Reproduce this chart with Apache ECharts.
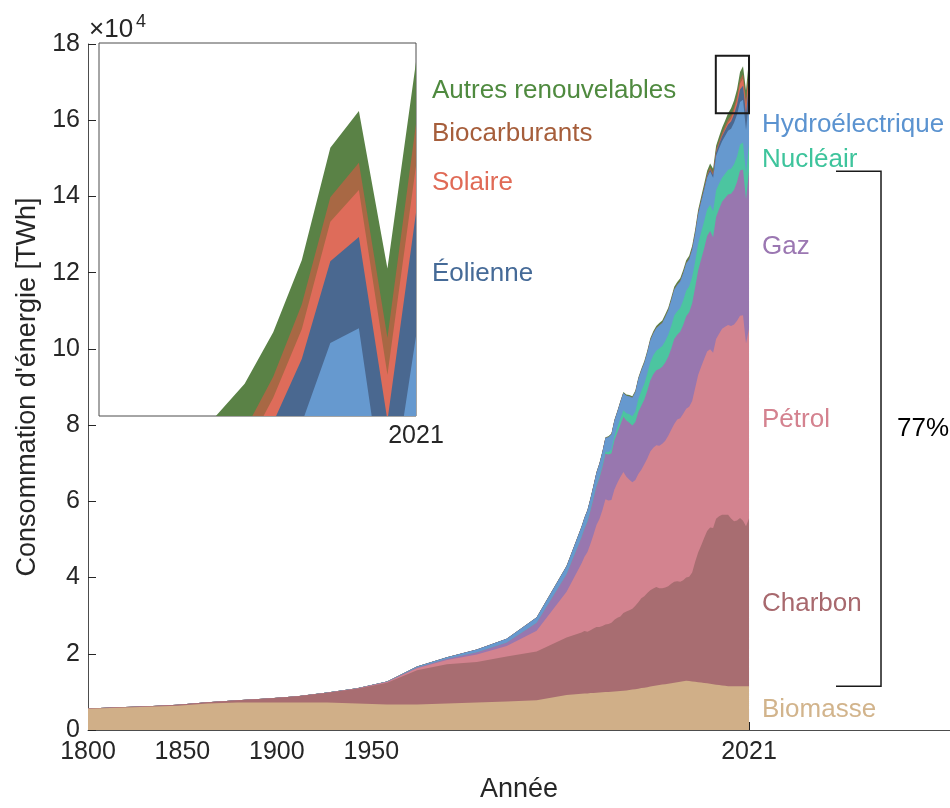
<!DOCTYPE html>
<html>
<head>
<meta charset="utf-8">
<script src="https://cdn.jsdelivr.net/npm/echarts@6/dist/echarts.min.js"></script>
<style>
  html, body { margin: 0; padding: 0; background: #ffffff; }
  #chart { width: 950px; height: 808px; }
</style>
</head>
<body>
<div id="chart"></div>
<script>
// World primary energy consumption by source, TWh
const years = [1800,1810,1820,1830,1840,1850,1860,1870,1880,1890,1900,1910,1920,1930,1940,1950,1960,
  1965,1966,1967,1968,1969,1970,1971,1972,1973,1974,
  1975,1976,1977,1978,1979,1980,1981,1982,1983,1984,
  1985,1986,1987,1988,1989,1990,1991,1992,1993,1994,
  1995,1996,1997,1998,1999,2000,2001,2002,2003,2004,
  2005,2006,2007,2008,2009,2010,2011,2012,2013,2014,
  2015,2016,2017,2018,2019,2020,2021];

const biomasse = [5556,5833,6111,6389,6944,7222,7222,7222,7222,6944,6667,6667,6944,7222,7500,7778,9167,
  9500,9550,9600,9680,9730,9800,9840,9900,9960,10000,
  10060,10110,10150,10210,10300,10380,10490,10600,10720,10840,
  10990,11100,11240,11390,11540,11690,11800,11910,12020,12140,
  12260,12390,12540,12680,12800,12890,12840,12750,12660,12550,
  12440,12350,12240,12110,12000,11900,11790,11700,11600,11500,
  11480,11470,11490,11500,11500,11490,11500];

const charbon = [97,128,153,264,356,569,1061,1642,2542,3856,5728,9000,10300,10600,11800,12800,15100,
  16100,16400,16200,16500,16900,17200,17200,17400,17700,17800,
  18100,18800,19300,19600,20400,20700,20900,21200,21900,22700,
  23600,24000,24700,25300,25600,25800,25400,25300,25400,25600,
  26100,26500,26500,26200,26500,27100,27400,28600,31500,34000,
  36000,38000,40000,41000,41000,43500,44300,44800,44900,45000,
  44000,43300,43500,44100,43400,42000,44000];

const petrole = [0,0,0,0,0,0,0,6,33,89,181,514,1097,1968,2739,5444,12000,
  18100,19500,20900,22700,24600,26800,28300,30400,32900,32400,
  32200,34200,35400,36600,37000,35400,34300,33200,33000,33600,
  33700,34600,35300,36400,36900,37200,37400,37900,38500,39500,
  40400,41400,42400,42900,43700,44300,44600,45000,45600,46600,
  46900,47000,47100,46800,46000,47200,47900,48800,49300,49800,
  50500,51600,52400,53100,53900,47900,49800];

const gaz = [0,0,0,0,0,0,0,0,30,70,120,250,350,600,900,2100,4600,
  6900,7400,8000,8700,9500,10200,10800,11300,11900,12100,
  12200,12900,13200,13700,14500,14700,14900,14900,15200,16300,
  16800,17000,17800,18600,19300,19700,20100,20200,20500,20700,
  21300,22300,22300,22700,23300,24300,24800,25600,26400,27400,
  28200,29000,30300,31000,30300,32000,32700,33300,33800,34200,
  34700,35400,36400,38100,38300,37800,41300];

const nucleaire = [0,0,0,0,0,0,0,0,0,0,0,0,0,0,0,0,20,
  70,90,110,140,170,220,300,400,540,660,
  1000,1140,1370,1640,1700,1930,2230,2440,2780,3380,
  3880,4150,4480,4830,4970,5130,5390,5440,5620,5750,
  5970,6170,6120,6250,6480,6640,6810,6890,6800,7050,
  7060,7130,6950,6920,6840,7010,6700,6290,6360,6510,
  6580,6670,6720,6860,7050,6830,7030];

const hydro = [0,0,0,0,0,0,0,0,0,20,60,200,400,700,1000,1400,2100,
  2600,2760,2830,2960,3120,3280,3410,3540,3600,3880,
  3970,4010,4080,4330,4520,4600,4700,4850,5050,5250,
  5350,5450,5520,5700,5720,5880,6060,6050,6320,6380,
  6670,6770,6880,6950,7010,7150,7030,7180,7220,7680,
  7920,8200,8350,8700,8770,9000,9250,9600,9900,10200,
  10500,10900,11000,11100,11200,11400,11400];

const eolien = [0,0,0,0,0,0,0,0,0,0,0,0,0,0,0,0,0,
  0,0,0,0,0,0,0,0,0,0,
  0,0,0,0,0,0,0,0,0,1,
  2,3,4,6,8,10,12,14,17,20,
  25,30,40,55,70,85,110,140,170,220,
  270,340,440,570,720,900,1100,1300,1500,1700,
  1900,2200,2600,3300,3700,4200,5000];

const solaire = [0,0,0,0,0,0,0,0,0,0,0,0,0,0,0,0,0,
  0,0,0,0,0,0,0,0,0,0,
  0,0,0,0,0,0,0,0,0,0,
  0,0,0,0,0,1,1,1,2,2,
  2,2,3,3,4,5,7,9,12,16,
  22,30,40,60,80,110,170,250,350,500,
  700,1000,1200,1600,1900,1850,1900];

const biocarburants = [0,0,0,0,0,0,0,0,0,0,0,0,0,0,0,0,0,
  0,0,0,0,0,0,0,0,0,0,
  0,0,0,0,0,20,30,40,50,60,
  70,80,85,90,100,110,115,115,120,125,
  130,130,135,130,125,120,130,150,170,190,
  230,290,370,480,530,600,650,700,750,800,
  850,850,1000,1000,1100,1500,1700];

const autres = [0,0,0,0,0,0,0,0,0,0,0,0,0,0,0,50,100,
  150,155,160,170,180,190,200,210,220,230,
  240,250,260,270,285,300,320,340,360,380,
  400,420,440,460,480,500,520,540,560,580,
  600,620,640,660,680,700,720,760,790,820,
  850,900,950,1000,1050,1100,1200,1300,1400,1600,
  1900,1800,1800,2000,2100,2800,2500];

// Source names, bottom to top of the stack
const names = ['Biomasse', 'Charbon', 'Pétrol', 'Gaz', 'Nucléair', 'Hydroélectrique',
  'Éolienne', 'Solaire', 'Biocarburants', 'Autres renouvelables'];
const values = [biomasse, charbon, petrole, gaz, nucleaire, hydro, eolien, solaire, biocarburants, autres];
// Sources labelled next to the detail panel instead of the main plot
const detailLabelled = ['Éolienne', 'Solaire', 'Biocarburants', 'Autres renouvelables'];
// Fossil sources grouped by the bracket
const fossil = ['Charbon', 'Pétrol', 'Gaz'];

// Year tick labels, spread over the data span in seven equal steps
const tickLabels = ['1800', '1850', '1900', '1950', '2021'];
const tickSlots = [0, 1, 2, 3, 7];

// Window of the detail panel (years, TWh)
const detailYears = [2009.9, 2021];
const detailRange = [161800, 176900];

(function () {
  // Styling
  const fills = ['#D0AF88', '#A86D71', '#D3838F', '#9877AF', '#4CC5A0', '#6699CF',
    '#4A6890', '#DE6C5A', '#A86844', '#5A8246'];
  const textColors = ['#D2B48C', '#A8696E', '#D4828F', '#9B77B2', '#3EC49C', '#5B93D0',
    '#456A97', '#E06A56', '#A65E3B', '#4F8A3F'];
  // Vertical nudges (px) that keep the band labels apart
  const labelNudge = [2, 2, -4, -3, 2, 2, -1, -6, -11, -2];
  const FONT = '"Liberation Sans", Arial, Helvetica, sans-serif';
  const INK = '#262626';

  const first = years[0];
  const last = years[years.length - 1];
  const step = (last - first) / 7;
  const tickVals = [0, 1, 2, 3, 4, 5, 6, 7].map(n => first + n * step);
  const labelVals = tickSlots.map(n => first + n * step);

  function nearestLabel(v) {
    let best = 0;
    labelVals.forEach((t, i) => { if (Math.abs(t - v) < Math.abs(labelVals[best] - v)) best = i; });
    return tickLabels[best];
  }

  // Running totals: the top edge of each band in the stack
  const cumulative = [];
  values.forEach((arr, i) => {
    cumulative.push(arr.map((v, k) => v + (i > 0 ? cumulative[i - 1][k] : 0)));
  });

  // Each band is an area filled down to zero; the upper bands are drawn first
  // so the lower ones paint over them, leaving the stacked layers visible.
  function makeSeries(axisIndex) {
    const out = [];
    for (let i = names.length - 1; i >= 0; i--) {
      out.push({
        name: names[i],
        type: 'line',
        xAxisIndex: axisIndex,
        yAxisIndex: axisIndex,
        data: years.map((y, k) => [y, cumulative[i][k]]),
        symbol: 'none',
        showSymbol: false,
        silent: true,
        clip: true,
        lineStyle: { width: 0, opacity: 0 },
        itemStyle: { color: fills[i] },
        areaStyle: { color: fills[i], opacity: 1, origin: 'start' },
        animation: false
      });
    }
    return out;
  }

  const chart = echarts.init(document.getElementById('chart'), null, { renderer: 'canvas' });

  const option = {
    backgroundColor: '#ffffff',
    animation: false,
    grid: [
      { left: 88, top: 44, right: 0, bottom: 75, show: false },
      { left: 99, top: 43, width: 317, height: 373, show: true, backgroundColor: '#ffffff',
        borderColor: '#4d4d4d', borderWidth: 1 }
    ],
    xAxis: [
      {
        gridIndex: 0, type: 'value', min: 1800, max: 2088.2,
        axisLine: { show: true, onZero: false, lineStyle: { color: '#4d4d4d', width: 1 } },
        axisTick: { show: true, inside: true, length: 8, customValues: tickVals, lineStyle: { color: INK } },
        axisLabel: { customValues: labelVals, formatter: v => nearestLabel(v), fontSize: 25,
          color: INK, margin: 10, fontFamily: FONT },
        splitLine: { show: false },
        name: 'Année', nameLocation: 'middle', nameGap: 46,
        nameTextStyle: { fontSize: 27, color: INK, fontFamily: FONT }
      },
      {
        gridIndex: 1, type: 'value', min: detailYears[0], max: detailYears[1],
        axisLine: { show: false }, axisTick: { show: false },
        axisLabel: { customValues: [last], showMaxLabel: true, formatter: v => String(Math.round(v)),
          fontSize: 25, color: INK, margin: 8, fontFamily: FONT },
        splitLine: { show: false }
      }
    ],
    yAxis: [
      {
        gridIndex: 0, type: 'value', min: 0, max: 180000, interval: 20000,
        axisLine: { show: true, onZero: false, lineStyle: { color: '#4d4d4d', width: 1 } },
        axisTick: { show: true, inside: true, length: 8, lineStyle: { color: INK } },
        axisLabel: { formatter: v => String(v / 10000), fontSize: 25, color: INK, margin: 8, fontFamily: FONT },
        splitLine: { show: false },
        name: "Consommation d'énergie [TWh]", nameLocation: 'middle', nameGap: 46,
        nameTextStyle: { fontSize: 27, color: INK, fontFamily: FONT }
      },
      {
        gridIndex: 1, type: 'value', min: detailRange[0], max: detailRange[1],
        axisLine: { show: false }, axisTick: { show: false }, axisLabel: { show: false },
        splitLine: { show: false }
      }
    ],
    series: makeSeries(0).concat(makeSeries(1))
  };

  chart.setOption(option);

  // Annotations placed from the last year's stacked bands
  const lastIdx = years.length - 1;
  const bands = names.map((n, i) => ({
    lo: i > 0 ? cumulative[i - 1][lastIdx] : 0,
    hi: cumulative[i][lastIdx]
  }));
  const total = cumulative[names.length - 1][lastIdx];

  const graphics = [];
  names.forEach((name, i) => {
    const inDetail = detailLabelled.includes(name);
    const p = chart.convertToPixel({ gridIndex: inDetail ? 1 : 0 }, [last, (bands[i].lo + bands[i].hi) / 2]);
    graphics.push({
      type: 'text', x: p[0] + (inDetail ? 16 : 13), y: p[1] + labelNudge[i], z: 100,
      style: { text: name, fill: textColors[i], font: '26px ' + FONT, align: 'left', verticalAlign: 'middle' }
    });
  });

  // Frame showing the detail window on the main plot
  const c1 = chart.convertToPixel({ gridIndex: 0 }, [detailYears[0], detailRange[1]]);
  const c2 = chart.convertToPixel({ gridIndex: 0 }, [detailYears[1], detailRange[0]]);
  graphics.push({
    type: 'rect', z: 100,
    shape: { x: c1[0], y: c1[1], width: c2[0] - c1[0], height: c2[1] - c1[1] },
    style: { fill: 'none', stroke: '#1a1a1a', lineWidth: 2 }
  });

  // Bracket around the fossil share
  const fIdx = fossil.map(n => names.indexOf(n));
  const fLo = bands[Math.min(...fIdx)].lo;
  const fHi = bands[Math.max(...fIdx)].hi;
  const fossilShare = Math.round((fHi - fLo) / total * 100);
  const b1 = chart.convertToPixel({ gridIndex: 0 }, [last, fHi]);
  const b2 = chart.convertToPixel({ gridIndex: 0 }, [last, fLo]);
  const bx0 = b1[0] + 87, bx1 = b1[0] + 132;
  graphics.push({
    type: 'polyline', z: 100,
    shape: { points: [[bx0, b1[1]], [bx1, b1[1]], [bx1, b2[1]], [bx0, b2[1]]] },
    style: { fill: 'none', stroke: '#1a1a1a', lineWidth: 1.5 }
  });
  graphics.push({
    type: 'text', x: bx1 + 16, y: (b1[1] + b2[1]) / 2, z: 100,
    style: { text: fossilShare + '%', fill: '#000000', font: '26px ' + FONT, align: 'left', verticalAlign: 'middle' }
  });

  // Exponent of the value axis
  const axisTopPx = chart.convertToPixel({ gridIndex: 0 }, [first, 180000]);
  graphics.push({
    type: 'text', x: axisTopPx[0] + 1, y: axisTopPx[1] - 14, z: 100,
    style: { text: '×10', fill: INK, font: '26px ' + FONT, align: 'left', verticalAlign: 'middle' }
  });
  graphics.push({
    type: 'text', x: axisTopPx[0] + 48, y: axisTopPx[1] - 22, z: 100,
    style: { text: '4', fill: INK, font: '18px ' + FONT, align: 'left', verticalAlign: 'middle' }
  });

  chart.setOption({ graphic: graphics });
})();
</script>
</body>
</html>
